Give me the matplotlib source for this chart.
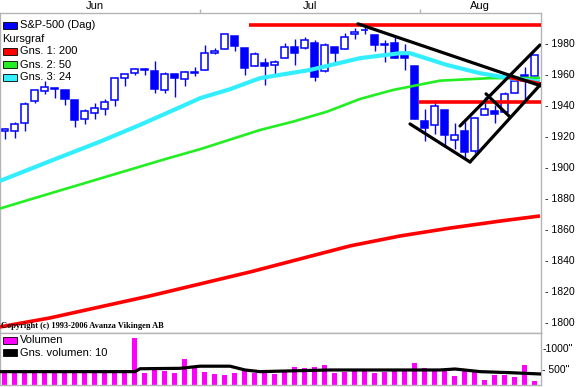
import matplotlib
matplotlib.use('Agg')
import matplotlib.pyplot as plt
from matplotlib.patches import Rectangle
from matplotlib.ticker import FixedLocator, FuncFormatter
import numpy as np

plt.rcParams['font.family'] = ['Liberation Sans', 'DejaVu Sans']

# ---------------- data ----------------
months = ['Jun', 'Jul', 'Aug']
month_first = [-1, 20, 42]
month_last = [19, 41, 53]

opens = [1923.07, 1923.06, 1928.52, 1942.41, 1948.97, 1950.34, 1949.37, 1943.35, 1930.80, 1934.84,
         1937.15, 1942.73, 1957.50, 1960.45, 1962.92, 1961.97, 1949.27, 1959.89, 1956.56, 1960.79,
         1962.29, 1973.06, 1975.88, 1984.22, 1976.39, 1965.10, 1966.67, 1965.76, 1969.86, 1977.36,
         1976.35, 1979.75, 1961.54, 1976.93, 1975.65, 1985.32, 1988.07, 1984.60, 1978.25, 1980.03,
         1973.21, 1965.14, 1929.80, 1926.62, 1936.34, 1917.29, 1923.03, 1910.35, 1933.43, 1935.73,
         1935.60, 1947.41, 1958.87, 1958.36]
highs = [1925.07, 1928.63, 1941.98, 1949.44, 1955.55, 1950.86, 1949.37, 1943.35, 1937.30, 1941.15,
         1943.69, 1957.74, 1959.87, 1963.91, 1963.74, 1968.17, 1960.83, 1959.89, 1961.47, 1964.24,
         1978.58, 1976.67, 1985.59, 1984.22, 1976.39, 1974.15, 1969.84, 1968.67, 1979.85, 1982.52,
         1983.94, 1981.80, 1979.91, 1976.93, 1986.24, 1989.23, 1991.39, 1984.60, 1981.52, 1984.85,
         1978.90, 1965.14, 1937.35, 1942.92, 1936.34, 1927.91, 1928.89, 1932.38, 1944.90, 1939.65,
         1948.41, 1955.23, 1964.04, 1971.99]
lows = [1918.16, 1918.60, 1922.93, 1941.03, 1947.16, 1944.64, 1940.08, 1925.78, 1927.69, 1930.91,
        1933.55, 1939.29, 1952.26, 1959.17, 1958.89, 1947.76, 1947.49, 1944.69, 1952.18, 1958.22,
        1962.29, 1972.58, 1975.88, 1974.88, 1959.46, 1965.10, 1952.86, 1959.63, 1969.86, 1965.34,
        1975.67, 1955.59, 1960.82, 1965.77, 1975.65, 1982.44, 1985.79, 1974.37, 1967.31, 1969.95,
        1962.42, 1930.67, 1916.37, 1921.20, 1913.77, 1911.45, 1904.78, 1909.01, 1933.43, 1928.29,
        1935.60, 1947.41, 1941.50, 1958.36]
closes = [1924.24, 1927.88, 1940.46, 1949.44, 1951.27, 1950.79, 1943.89, 1930.11, 1936.16, 1937.78,
          1941.99, 1956.98, 1959.48, 1962.87, 1962.61, 1949.98, 1959.53, 1957.22, 1960.96, 1960.23,
          1973.32, 1974.62, 1985.44, 1977.65, 1963.71, 1972.83, 1964.68, 1967.57, 1977.10, 1973.28,
          1981.57, 1958.12, 1978.22, 1973.63, 1983.53, 1987.01, 1987.98, 1978.34, 1978.91, 1969.95,
          1970.07, 1930.67, 1925.15, 1938.99, 1920.21, 1920.24, 1909.57, 1931.59, 1936.92, 1933.75,
          1946.72, 1955.18, 1955.06, 1971.74]

volume = [413, 413, 437, 460, 460, 413, 413, 460, 460, 413,
          437, 437, 476, 1236, 413, 476, 460, 413, 734, 531,
          437, 382, 358, 413, 476, 413, 437, 382, 437, 546,
          531, 554, 593, 413, 437, 476, 476, 413, 437, 499,
          499, 648, 531, 476, 499, 343, 476, 460, 241, 358,
          358, 319, 593, 217]

vma_x = [-0.5, 13, 13.5, 17.5, 19.5, 22.5, 24, 25.5, 29.5, 32.5, 43.5, 45, 47.5, 50.5, 53.5]
vma10 = [437, 437, 505, 515, 565, 565, 476, 437, 460, 476, 476, 499, 437, 413, 382]

ma200_x = [-0.5, 4.5, 9.5, 14.5, 19.5, 24.5, 29.5, 34.5, 39.5, 44.5, 49.5, 53.5]
ma200 = [1796.8, 1802.6, 1809.7, 1816.8, 1824.5, 1832.2, 1840.6, 1849.0, 1855.4, 1860.5, 1865.0, 1868.3]

ma50_x = [-0.5, 4.5, 9.5, 16, 19.5, 25.5, 28.8, 32.2, 35.5, 38.8, 43.5, 48.5, 53.5]
ma50 = [1873.1, 1882.8, 1892.4, 1904.9, 1911.3, 1923.7, 1929.1, 1935.5, 1943.7, 1949.5, 1955.5, 1957.1, 1957.3]

ma24_x = [-0.5, 5, 9.5, 13.5, 17.5, 19.5, 22.5, 25.5, 30.5, 35.5, 39.5, 40.5, 44.2, 47.5, 50.5, 53.5]
ma24 = [1890.9, 1904.9, 1916.2, 1927.0, 1938.4, 1944.2, 1950.0, 1957.1, 1962.4, 1970.0, 1973.2,
        1973.2, 1965.6, 1960.3, 1957.1, 1954.9]

# trend lines: (x0, y0, x1, y1)
black_lines = [
    (35.3, 1992.1, 53.6, 1952.1),
    (40.5, 1927.6, 46.5, 1903.1),
    (46.5, 1903.1, 53.6, 1953.4),
    (45.5, 1926.3, 53.5, 1978.5),
    (48.1, 1947.0, 50.5, 1932.1),
]
red_lines = [
    (24.4, 1991.4, 53.6, 1991.4),
    (41.4, 1941.8, 53.6, 1941.8),
    (50.2, 1957.9, 53.6, 1953.4),
]

price_ticks = list(range(1800, 1981, 20))
vol_ticks = [500, 1000]

# ---------------- figure ----------------
W, H = 577, 387
fig = plt.figure(figsize=(W / 100, H / 100), dpi=100)
fig.patch.set_facecolor('white')

def fx(px):
    return px / W

def fy(py):
    return (H - py) / H

gray = '#b4b4b4'
blue = '#0000ff'

ax = fig.add_axes([0, fy(332.5), fx(541), (332.5 - 13) / H])
vax = fig.add_axes([0, fy(385), fx(541), (385 - 332.5) / H])

x = np.arange(len(closes))
o = np.array(opens); c = np.array(closes); h = np.array(highs); l = np.array(lows)

ax.vlines(x, l, h, color=blue, lw=1.0, zorder=2)
up = c >= o
bottoms = np.minimum(o, c)
heights = np.abs(c - o)
ax.bar(x[up], heights[up], bottom=bottoms[up], width=0.7, facecolor='white',
       edgecolor=blue, linewidth=1.1, zorder=3)
ax.bar(x[~up], heights[~up], bottom=bottoms[~up], width=0.7, facecolor=blue,
       edgecolor=blue, linewidth=1.1, zorder=3)

ax.plot(ma200_x, ma200, color='#ff0000', lw=2.6, zorder=4, solid_capstyle='butt')
ax.plot(ma50_x, ma50, color='#22ee22', lw=1.9, zorder=4, solid_capstyle='butt')
ax.plot(ma24_x, ma24, color='#33eeff', lw=3.0, zorder=4, solid_capstyle='butt')

for (x0, y0, x1, y1) in red_lines:
    ax.plot([x0, x1], [y0, y1], color='#ff0000', lw=2.6, zorder=5, solid_capstyle='butt')
for (x0, y0, x1, y1) in black_lines:
    ax.plot([x0, x1], [y0, y1], color='black', lw=2.3, zorder=6, solid_capstyle='round')

ax.set_xlim(-0.5, 53.6)
ax.set_ylim(1793.2, 1999.1)

for a in (ax, vax):
    for s in a.spines.values():
        s.set_color(gray)
        s.set_linewidth(1.0)

ax.yaxis.tick_right()
ax.yaxis.set_major_locator(FixedLocator(price_ticks))
ax.yaxis.set_major_formatter(FuncFormatter(lambda v, p: '- %d' % v))
ax.tick_params(axis='y', length=0, pad=3, labelsize=7.5, colors='black')

ax.xaxis.set_ticks_position('top')
bounds = [(month_last[k] + month_first[k + 1]) / 2 for k in range(len(months) - 1)]
ax.set_xticks(bounds)
ax.set_xticklabels([''] * len(bounds))
ax.tick_params(axis='x', direction='out', length=3, width=1, color=gray)
for k, m in enumerate(months):
    cx = (month_first[k] + month_last[k]) / 2
    ax.text(cx, 1 + 6.5 / 319.5, m, transform=ax.get_xaxis_transform(),
            ha='center', va='center', fontsize=8)

vax.bar(x, volume, width=0.5, color='#ff00ff', zorder=2)
vax.plot(vma_x, vma10, color='black', lw=2.3, zorder=3)
vax.set_xlim(-0.5, 53.6)
vax.set_ylim(123, 1357)
vax.set_xticks([])
vax.yaxis.tick_right()
vax.yaxis.set_major_locator(FixedLocator(vol_ticks))
vax.yaxis.set_major_formatter(FuncFormatter(lambda v, p: ('-%d"' % v) if v >= 1000 else ('- %d"' % v)))
vax.tick_params(axis='y', length=0, pad=1, labelsize=7.5)

def legend_row(ypix, label, color=None):
    if color is not None:
        fig.add_artist(Rectangle((fx(3), fy(ypix + 3.5)), 14 / W, 7 / H, transform=fig.transFigure,
                                 facecolor=color, edgecolor='black', linewidth=0.6))
        fig.text(fx(19.5), fy(ypix), label, fontsize=8, va='center', ha='left')
    else:
        fig.text(fx(2.5), fy(ypix), label, fontsize=8, va='center', ha='left')

legend_row(25.5, 'S&P-500 (Dag)', blue)
legend_row(38.5, 'Kursgraf')
legend_row(51.5, 'Gns. 1: 200', '#ff0000')
legend_row(64.5, 'Gns. 2: 50', '#22ee22')
legend_row(77.5, 'Gns. 3: 24', '#33eeff')

legend_row(340, 'Volumen', '#ff00ff')
legend_row(352.5, 'Gns. volumen: 10', 'black')

fig.text(fx(1), fy(325.5), 'Copyright (c) 1993-2006 Avanza Vikingen AB', fontsize=6,
         family=['Liberation Serif', 'DejaVu Serif'], va='center', ha='left', weight='bold')

fig.savefig('out.png', dpi=100)
